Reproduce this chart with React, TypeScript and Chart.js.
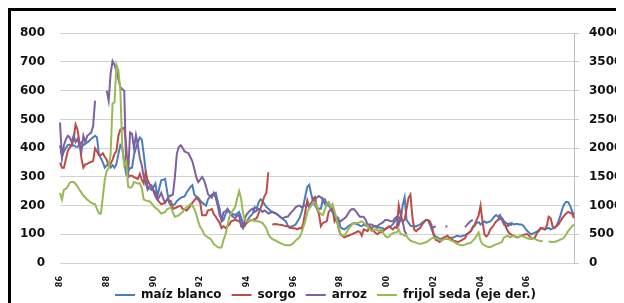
import React, { useEffect, useRef } from "react";
import { Chart, registerables } from "chart.js";

Chart.register(...registerables);

// Monthly series, Jan 1986 .. Jan 2008
const startYear = 1986;
const monthCount = 265;
const monthNames = ["ene", "feb", "mar", "abr", "may", "jun", "jul", "ago", "sep", "oct", "nov", "dic"];
const categories: string[] = [];
for (let i = 0; i < monthCount; i++) {
  const y = startYear + Math.floor(i / 12);
  categories.push(monthNames[i % 12] + "-" + String(y).slice(2));
}

// x tick labels, one every two years (January)
const yearTickLabels = ["86", "88", "90", "92", "94", "96", "98", "'00", "'02", "'04", "'06"];

const seriesNames = ["maíz blanco", "sorgo", "arroz", "frijol seda (eje der.)"];

const maizBlanco = [
  410, 371, 388, 400, 410, 412, 408, 410, 405, 404, 412, 420,
  410, 415, 420, 425, 432, 438, 443, 437, 376, 365, 350, 332,
  340, 343, 332, 340, 332, 345, 380, 410, 400, 350, 310, 320,
  330, 332, 376, 400, 420, 437, 430, 380, 321, 266, 260, 255,
  265, 277, 232, 260, 288, 290, 293, 250, 210, 199, 202, 205,
  215, 221, 227, 230, 232, 245, 255, 265, 271, 238, 232, 227,
  218, 210, 205, 199, 221, 230, 238, 240, 244, 215, 188, 144,
  150, 170, 180, 178, 172, 170, 167, 172, 178, 160, 135, 130,
  145, 156, 165, 172, 195, 189, 211, 222, 216, 205, 195, 189,
  182, 178, 175, 172, 167, 162, 156, 150, 145, 130, 122, 128,
  130, 134, 145, 156, 175, 200, 233, 265, 272, 240, 215, 200,
  189, 190, 189, 222, 205, 200, 200, 190, 178, 168, 161, 156,
  125, 120, 117, 122, 128, 132, 136, 139, 136, 134, 130, 128,
  134, 130, 128, 125, 122, 126, 128, 122, 124, 122, 120, 117,
  122, 125, 128, 135, 145, 156, 160, 150, 200, 228, 150, 140,
  130, 128, 128, 128, 131, 134, 140, 145, 150, 148, 134, 115,
  100, 92, 88, 84, 85, 84, 84, 84, 86, 88, 89, 92,
  95, 93, 92, 95, 97, 100, 105, 111, 122, 130, 140, 142,
  134, 140, 145, 140, 143, 145, 152, 161, 167, 161, 167, 150,
  134, 130, 128, 134, 139, 134, 136, 136, 134, 134, 130, 120,
  111, 105, 100, 103, 106, 110, 115, 122, 120, 117, 120, 122,
  117, 120, 122, 130, 145, 165, 189, 205, 213, 212, 200, 180,
  167,
];

const sorgo = [
  349, 332, 332, 360, 390, 402, 410, 430, 482, 465, 421, 365,
  332, 343, 345, 349, 352, 355, 399, 388, 376, 376, 382, 370,
  360, 338, 345, 360, 380, 390, 443, 465, 468, 471, 410, 299,
  304, 304, 299, 296, 293, 310, 290, 277, 316, 288, 275, 266,
  255, 245, 221, 212, 205, 207, 210, 221, 218, 215, 188, 191,
  194, 197, 199, 188, 186, 183, 190, 199, 210, 218, 227, 220,
  210, 166, 166, 166, 183, 185, 188, 170, 161, 150, 140, 122,
  128, 122, 128, 134, 145, 148, 150, 148, 145, 138, 122, 134,
  140, 145, 148, 150, 153, 156, 172, 189, 211, 233, 244, 316,
  null, 134, 135, 136, 134, 133, 132, 130, 128, 128, 125, 122,
  121, 120, 117, 122, 120, 140, 180, 218, 195, 200, 225, 230,
  190, 170, 128, 139, 142, 145, 178, 185, 189, 145, 156, 122,
  100, 95, 89, 92, 95, 98, 100, 104, 106, 111, 108, 95,
  117, 114, 111, 128, 120, 111, 105, 100, 106, 108, 111, 118,
  122, 128, 122, 117, 125, 122, 200, 167, 145, 150, 189, 227,
  238, 160, 115, 111, 118, 122, 134, 142, 150, 150, 145, 128,
  95, 80, 78, 73, 80, 89, 92, 95, 88, 84, 78, 76,
  73, 75, 78, 82, 86, 100, 105, 111, 125, 134, 150, 165,
  200, 145, 100, 92, 100, 117, 125, 134, 145, 150, 153, 156,
  145, 125, 111, 102, 98, 95, 92, 89, 92, 95, 98, 100,
  100, 95, 84, 86, 89, 105, 111, 122, 120, 117, 128, 161,
  156, 128, 122, 128, 134, 145, 156, 165, 172, 178, 175, 172,
  156,
];

const arroz = [
  489, 365, 410, 430, 443, 437, 421, 443, 421, 432, 410, 388,
  443, 421, 443, 448, 454, 476, 565, null, null, null, null, null,
  600, 565, 660, 703, 690, 668, 640, 612, 605, 600, 330, 310,
  455, 450, 400, 445, 410, 365, 340, 300, 280, 255, 265, 270,
  250, 232, 221, 230, 244, 225, 210, 220, 232, 235, 238, 299,
  380, 404, 410, 400, 388, 385, 382, 368, 354, 327, 299, 282,
  290, 299, 288, 266, 240, 232, 227, 244, 227, 199, 166, 150,
  177, 180, 189, 178, 167, 160, 156, 165, 167, 128, 122, 156,
  170, 178, 185, 189, 178, 182, 189, 185, 178, 183, 178, 172,
  175, 178, 175, 172, 167, 160, 156, 158, 161, 161, 170, 178,
  185, 194, 198, 200, 194, 198, 200, 200, 200, 210, 216, 222,
  228, 233, 228, 222, 222, 205, 211, 195, 178, 165, 156, 139,
  145, 150, 155, 161, 172, 183, 188, 187, 180, 170, 161, 161,
  160, 150, 134, 134, 134, 130, 128, 128, 134, 138, 142, 150,
  150, 148, 145, 145, 155, 161, 134, 156, 145, 111, 100, null,
  null, null, null, null, null, null, null, null, null, null, null, 120,
  125, 128, null, null, null, null, 128, 126, null, null, null, null,
  null, null, null, null, 125, 132, 140, 146, 150, null, null, null,
  null, null, null, null, null, null, null, null, null, 150, 160, 155,
  145, 140, 135, 138, 130, null, null, null, null, null, null, null,
  null, null, null, null, null, null, null, null, null, null, null, null,
  null, null, null, null, null, null, null, null, null, null, null, null,
  null,
];

// right axis
const frijolSeda = [
  1220, 1105, 1275, 1290, 1330, 1400, 1410, 1410, 1375, 1330, 1275, 1225,
  1175, 1140, 1105, 1075, 1050, 1035, 1025, 940, 860, 860, 1150, 1450,
  1605, 1650, 1900, 2775, 2800, 3450, 3350, 3000, 2000, 1700, 1775, 1330,
  1310, 1330, 1410, 1400, 1385, 1390, 1310, 1105, 1090, 1080, 1075, 1040,
  995, 960, 940, 900, 860, 875, 885, 940, 950, 970, 875, 805,
  815, 830, 860, 885, 940, 970, 995, 1025, 1000, 940, 850, 720,
  625, 580, 500, 470, 445, 425, 390, 325, 305, 275, 265, 275,
  400, 500, 650, 800, 875, 925, 975, 1125, 1250, 1125, 875, 750,
  725, 725, 740, 750, 725, 725, 725, 710, 695, 650, 600, 500,
  450, 420, 400, 390, 365, 350, 335, 320, 310, 310, 310, 325,
  350, 390, 420, 445, 525, 625, 725, 890, 945, 1000, 1055, 1050,
  975, 890, 850, 835, 925, 1025, 1055, 975, 1025, 900, 780, 640,
  500, 485, 475, 525, 585, 630, 670, 695, 695, 695, 710, 725,
  700, 670, 640, 600, 555, 570, 585, 570, 555, 585, 525, 475,
  445, 460, 500, 520, 530, 530, 585, 500, 500, 475, 475, 420,
  390, 375, 365, 350, 340, 335, 340, 350, 360, 380, 410, 430,
  445, 430, 420, 400, 390, 410, 420, 420, 410, 390, 375, 355,
  335, 320, 310, 310, 320, 335, 345, 350, 390, 420, 475, 530,
  390, 325, 310, 290, 280, 280, 290, 310, 325, 335, 350, 365,
  445, 460, 475, 445, 460, 475, 450, 445, 460, 475, 460, 445,
  430, 420, 445, 430, 420, 400, 390, 380, 385, null, null, 380,
  365, 365, 365, 380, 390, 410, 420, 445, 500, 555, 600, 640,
  670,
];

const leftTicks = { min: 0, max: 800, step: 100 };
const rightTicks = { min: 0, max: 4000, step: 500 };

const colors = ["#4A7EBB", "#BE4B48", "#7D60A0", "#98B954"];
const FONT = "'DejaVu Sans', Verdana, sans-serif";

// nudge the legend (right and up) to where the original sits
const legendShift = {
  id: "legendShift",
  beforeDraw(chart: any) {
    const l = chart.legend;
    if (l && !l._shifted) {
      l.left += 8;
      l.right += 8;
      l.top -= 8;
      l._shifted = true;
    }
  },
};

export default function App() {
  const ref = useRef<HTMLCanvasElement | null>(null);

  useEffect(() => {
    if (!ref.current) return;
    const series = [maizBlanco, sorgo, arroz, frijolSeda];
    const chart = new Chart(ref.current, {
      type: "line",
      data: {
        labels: categories,
        datasets: series.map((d, i) => ({
          label: seriesNames[i],
          data: d,
          borderColor: colors[i],
          backgroundColor: colors[i],
          borderWidth: 2,
          pointRadius: 0,
          tension: 0,
          yAxisID: i === 3 ? "y1" : "y",
          order: 4 - i,
        })),
      },
      plugins: [legendShift],
      options: {
        responsive: false,
        animation: false,
        devicePixelRatio: 1,
        layout: { padding: { top: 11, left: 0, right: 0, bottom: 0 } },
        plugins: {
          tooltip: { enabled: false },
          legend: {
            position: "bottom",
            maxHeight: 16,
            labels: {
              usePointStyle: true,
              pointStyle: "line",
              pointStyleWidth: 20,
              padding: 10,
              color: "#111",
              font: { family: FONT, size: 12, weight: "bold" },
              sort: (a: any, b: any) => a.datasetIndex - b.datasetIndex,
            },
          },
        },
        scales: {
          x: {
            type: "category",
            offset: false,
            grid: { display: false },
            border: { display: false },
            ticks: {
              autoSkip: false,
              maxRotation: 90,
              minRotation: 90,
              padding: 5,
              color: "#111",
              font: { family: FONT, size: 8, weight: "bold" },
              callback: (_v: any, i: number) => (i % 24 === 0 ? yearTickLabels[i / 24] || "" : ""),
            },
            afterFit: (s: any) => {
              s.height = 24;
            },
          },
          y: {
            position: "left",
            min: leftTicks.min,
            max: leftTicks.max,
            ticks: {
              stepSize: leftTicks.step,
              padding: 15,
              color: "#111",
              font: { family: FONT, size: 12, weight: "bold" },
            },
            grid: { drawTicks: false, color: "#d2d2d2", lineWidth: 1 },
            border: { display: false },
            afterFit: (s: any) => {
              s.width = 49;
            },
          },
          y1: {
            position: "right",
            min: rightTicks.min,
            max: rightTicks.max,
            ticks: {
              stepSize: rightTicks.step,
              padding: 10,
              color: "#111",
              font: { family: FONT, size: 12, weight: "bold" },
              callback: (v: any) => String(v),
            },
            grid: { drawOnChartArea: false, drawTicks: true, tickLength: 5, color: "#c8c8c8" },
            border: { display: true, color: "#bdbdbd" },
            afterFit: (s: any) => {
              s.width = 50;
            },
          },
        },
      } as any,
    });
    return () => chart.destroy();
  }, []);

  return (
    <div
      style={{
        width: 613,
        height: 292,
        borderTop: "3px solid #000",
        borderLeft: "3px solid #000",
        background: "#fff",
      }}
    >
      <canvas ref={ref} width={613} height={292} style={{ display: "block" }} />
    </div>
  );
}
